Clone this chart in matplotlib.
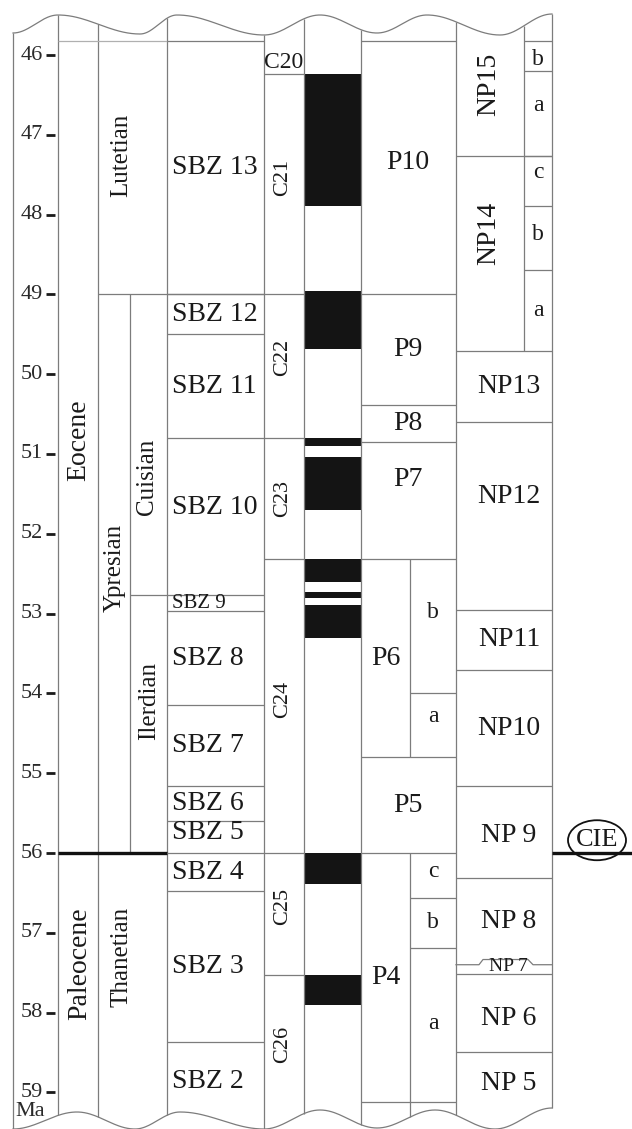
import numpy as np
import matplotlib
matplotlib.use("Agg")
import matplotlib.pyplot as plt
from matplotlib.patches import Ellipse

plt.rcParams['font.family'] = ['Liberation Serif', 'DejaVu Serif']

# ---- data (ages in Ma) ----
age_ticks = list(range(46, 60))
chart_top = 45.82

epochs = ['Eocene', 'Paleocene']
epoch_bounds = [45.82, 56.0, 59.4]

stages = ['Lutetian', 'Ypresian', 'Thanetian']
stage_bounds = [45.82, 49.0, 56.0, 59.4]
substages = ['Cuisian', 'Ilerdian']
substage_bounds = [49.0, 52.77, 56.0]

sbz_names = ['SBZ 13', 'SBZ 12', 'SBZ 11', 'SBZ 10', 'SBZ 9', 'SBZ 8', 'SBZ 7',
             'SBZ 6', 'SBZ 5', 'SBZ 4', 'SBZ 3', 'SBZ 2']
sbz_bounds = [45.82, 49.0, 49.5, 50.8, 52.77, 52.97, 54.15, 55.16, 55.6, 56.0,
              56.48, 58.37, 59.4]

chron_names = ['C20', 'C21', 'C22', 'C23', 'C24', 'C25', 'C26']
chron_bounds = [45.82, 46.24, 49.0, 50.8, 52.32, 56.0, 57.53, 59.4]

normal_start = [46.24, 48.96, 50.80, 51.04, 52.32, 52.73, 52.89, 56.0, 57.53]
normal_end = [47.89, 49.68, 50.90, 51.70, 52.60, 52.80, 53.31, 56.39, 57.90]

p_names = ['P10', 'P9', 'P8', 'P7', 'P6', 'P5', 'P4']
p_bounds = [45.82, 49.0, 50.39, 50.85, 52.32, 54.8, 56.0, 59.12]
p6_sub = ['b', 'a']
p6_sub_bounds = [52.32, 54.0, 54.8]
p4_sub = ['c', 'b', 'a']
p4_sub_bounds = [56.0, 56.56, 57.19, 59.12]

np_names = ['NP15', 'NP14', 'NP13', 'NP12', 'NP11', 'NP10', 'NP 9', 'NP 8',
            'NP 7', 'NP 6', 'NP 5']
np_bounds = [45.82, 47.27, 49.71, 50.6, 52.95, 53.71, 55.16, 56.31, 57.4,
             57.52, 58.49, 59.4]
np_sub = ['b', 'a', 'c', 'b', 'a']
np_sub_bounds = [45.82, 46.2, 47.27, 47.89, 48.7, 49.71]

cie_age = 55.84

# ---- layout (pixels) ----
W, H = 632, 1129
Y46, PX_MA = 55, 79.8


def age(ypx):
    return 46 + (ypx - Y46) / PX_MA


X_L, X_EP, X_ST, X_SUB, X_SBZ, X_CH, X_POL, X_P, X_PS, X_NP, X_NS, X_R = \
    13, 58, 98, 130, 167, 264, 304, 361, 410, 456, 524, 552

LC = '#7c7c7c'
LW = 0.9
TC = '#1a1a1a'

fig = plt.figure(figsize=(W / 100, H / 100), dpi=100)
ax = fig.add_axes([0, 0, 1, 1])
ax.set_xlim(0, W)
ax.set_ylim(age(H), age(0))
ax.axis('off')


def wave(xs, ys, n=40):
    px, py = [], []
    for i in range(len(xs) - 1):
        t = np.linspace(0, 1, n)
        s = (1 - np.cos(np.pi * t)) / 2
        px.append(xs[i] + (xs[i + 1] - xs[i]) * t)
        py.append(ys[i] + (ys[i + 1] - ys[i]) * s)
    return np.concatenate(px), np.concatenate(py)


top_x, top_y = wave([13, 58, 140, 177, 264, 320, 377, 427, 500, 552],
                    [33, 15, 34, 15, 35, 15, 33, 15, 35, 14])
bot_x, bot_y = wave([13, 77, 135, 180, 264, 320, 377, 435, 495, 552],
                    [1129, 1112, 1129, 1112, 1129, 1110, 1128, 1110, 1129, 1108])
ax.plot(top_x, age(top_y), color=LC, lw=LW)
ax.plot(bot_x, age(bot_y), color=LC, lw=LW)


def top_at(x):
    return age(np.interp(x, top_x, top_y))


def bot_at(x):
    return age(np.interp(x, bot_x, bot_y))


# vertical column lines
ax.vlines(X_L, top_at(X_L), age(H), color=LC, lw=LW)
for x in [X_EP, X_ST, X_SBZ, X_CH, X_POL, X_P, X_NP, X_R]:
    ax.vlines(x, top_at(x), bot_at(x), color=LC, lw=LW)
ax.vlines(X_SUB, substage_bounds[0], substage_bounds[-1], color=LC, lw=LW)
ax.vlines(X_PS, p6_sub_bounds[0], p6_sub_bounds[-1], color=LC, lw=LW)
ax.vlines(X_PS, p4_sub_bounds[0], bot_at(X_PS), color=LC, lw=LW)
ax.vlines(X_NS, top_at(X_NS), np_sub_bounds[-1], color=LC, lw=LW)

# top line segments
ax.hlines(chart_top, X_EP, X_SBZ, color='#b0b0b0', lw=LW)
ax.hlines(chart_top, X_SBZ, X_CH, color=LC, lw=LW)
ax.hlines(chart_top, X_P, X_NP, color=LC, lw=LW)
ax.hlines(chart_top, X_NS, X_R, color=LC, lw=LW)

# age ticks
for a in age_ticks:
    ax.plot([46, 55], [a, a], color=TC, lw=2, solid_capstyle='butt')
    ax.text(43, a, str(a), ha='right', va='center', fontsize=16, color='#2a2a2a')
ax.text(15, age(1112), 'Ma', ha='left', va='center', fontsize=16, color='#2a2a2a')

txt = dict(ha='center', va='center', color=TC)

# epochs
ax.text(79, age(440), epochs[0], rotation=90, fontsize=20, **txt)
ax.text(80, age(964), epochs[1], rotation=90, fontsize=20, **txt)
ax.plot([X_EP, X_SBZ], [56.0, 56.0], color='#111111', lw=2.4, solid_capstyle='butt')
ax.plot([X_R, W], [56.0, 56.0], color='#111111', lw=2.4, solid_capstyle='butt')

# stages
ax.hlines(stage_bounds[1], X_ST, X_SBZ, color=LC, lw=LW)
ax.hlines(substage_bounds[1], X_SUB, X_SBZ, color=LC, lw=LW)
ax.text(121, age(155), stages[0], rotation=90, fontsize=18, **txt)
ax.text(115, age(568), stages[1], rotation=90, fontsize=18, **txt)
ax.text(121, age(957), stages[2], rotation=90, fontsize=18, **txt)
ax.text(147, age(477), substages[0], rotation=90, fontsize=18, **txt)
ax.text(149, age(701), substages[1], rotation=90, fontsize=18, **txt)

# SBZ
sbz_nudge = {'SBZ 10': -0.11, 'SBZ 2': -0.02, 'SBZ 5': -0.06}
for b in sbz_bounds[1:-1]:
    ax.hlines(b, X_SBZ, X_CH, color=LC, lw=LW)
for i, name in enumerate(sbz_names):
    mid = (sbz_bounds[i] + sbz_bounds[i + 1]) / 2 + sbz_nudge.get(name, 0)
    fs = 15 if name == 'SBZ 9' else 20
    ax.text(X_SBZ + 5, mid, name, ha='left', va='center', fontsize=fs, color=TC)

# chrons
ch_nudge = {'C22': -0.11, 'C21': -0.08, 'C24': -0.08, 'C25': -0.1, 'C26': -0.07}
for b in chron_bounds[1:-1]:
    ax.hlines(b, X_CH, X_POL, color=LC, lw=LW)
ax.hlines(chron_bounds[2], X_SBZ, X_CH, color=LC, lw=LW)
for i, name in enumerate(chron_names):
    mid = (chron_bounds[i] + chron_bounds[i + 1]) / 2 + ch_nudge.get(name, 0)
    if name == 'C20':
        ax.text((X_CH + X_POL) / 2, age(62), name, fontsize=17, **txt)
    else:
        ax.text((X_CH + X_POL) / 2 - 1, mid, name, rotation=90, fontsize=16, **txt)

# polarity
heights = np.array(normal_end) - np.array(normal_start)
ax.bar([(X_POL + X_P) / 2] * len(heights), heights, bottom=normal_start,
       width=X_P - X_POL, color='#141414', linewidth=0)

# planktonic forams
p_nudge = {'P7': -0.26, 'P10': -0.06}
for b in p_bounds[1:]:
    ax.hlines(b, X_P, X_NP, color=LC, lw=LW)
for i, name in enumerate(p_names):
    mid = (p_bounds[i] + p_bounds[i + 1]) / 2 + p_nudge.get(name, 0)
    if name in ('P6', 'P4'):
        xc = (X_P + X_PS) / 2
    else:
        xc = (X_P + X_NP) / 2 - 1
    ax.text(xc, mid, name, fontsize=20, **txt)
for subs, bnds, nud in [(p6_sub, p6_sub_bounds, [-0.18, -0.11]),
                        (p4_sub, p4_sub_bounds, [-0.05, 0.0, -0.02])]:
    for b in bnds[1:-1]:
        ax.hlines(b, X_PS, X_NP, color=LC, lw=LW)
    for i, s in enumerate(subs):
        mid = (bnds[i] + bnds[i + 1]) / 2 + nud[i]
        ax.text((X_PS + X_NP) / 2, mid, s, fontsize=17, **txt)

# nannofossils
np_nudge = {'NP12': -0.24, 'NP 5': -0.06, 'NP 6': 0.07, 'NP 9': 0.05}
for b in np_bounds[1:-1]:
    if b == 57.4:
        bx = [X_NP, 479, 483, 528, 533, X_R]
        by = [b, b, b - 0.065, b - 0.065, b, b]
        ax.plot(bx, by, color=LC, lw=LW)
    else:
        ax.hlines(b, X_NP, X_R, color=LC, lw=LW)
for i, name in enumerate(np_names):
    mid = (np_bounds[i] + np_bounds[i + 1]) / 2 + np_nudge.get(name, 0)
    if name == 'NP15':
        ax.text(489, age(84), name, rotation=90, fontsize=20, **txt)
    elif name == 'NP14':
        ax.text(489, age(233), name, rotation=90, fontsize=20, **txt)
    elif name == 'NP 7':
        ax.text(508, mid - 0.04, name, fontsize=14, **txt)
    else:
        ax.text((X_NP + X_R) / 2 + 5, mid, name, fontsize=20, **txt)
sub_nudge = [0.05, -0.1, -0.11, -0.05, 0.0]
for b in np_sub_bounds[1:-1]:
    ax.hlines(b, X_NS, X_R, color=LC, lw=LW)
for i, s in enumerate(np_sub):
    mid = (np_sub_bounds[i] + np_sub_bounds[i + 1]) / 2 + sub_nudge[i]
    ax.text((X_NS + X_R) / 2, mid, s, fontsize=17, **txt)

# CIE marker
ax.add_patch(Ellipse((597, cie_age), 58, 40 / PX_MA, fill=False,
                     edgecolor='#111111', lw=1.3))
ax.text(597, cie_age, 'CIE', fontsize=19, **txt)

fig.savefig('out.png', dpi=100, facecolor='white')
